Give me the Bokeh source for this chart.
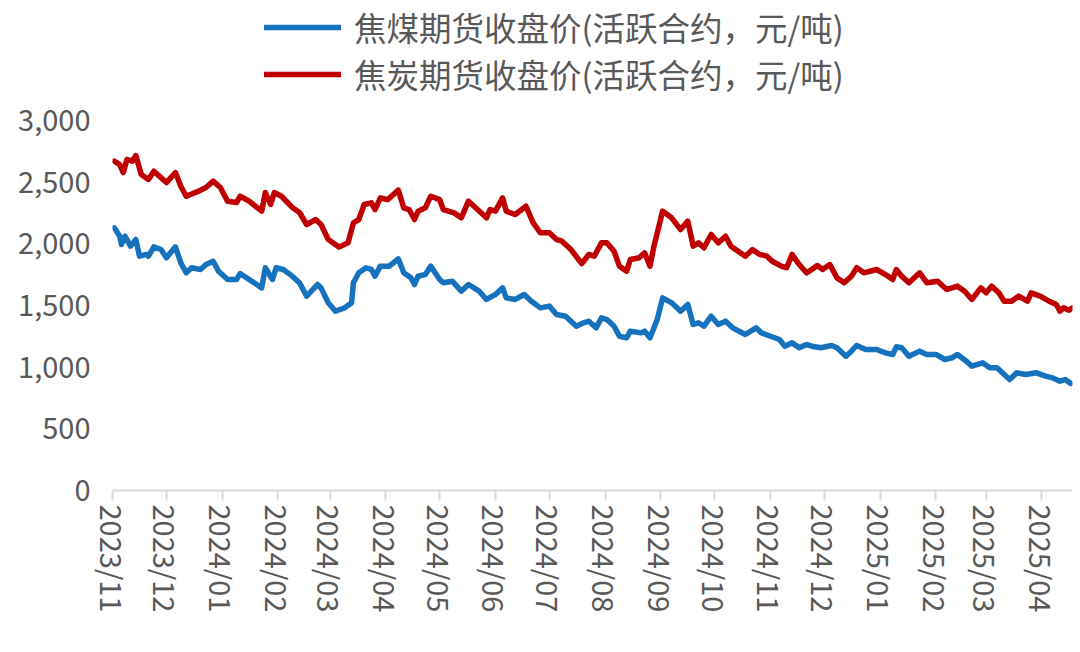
import pandas as pd
from bokeh.plotting import figure
from bokeh.models import (Range1d, FixedTicker, NumeralTickFormatter, DatetimeTickFormatter,
                          Legend, LegendItem, ColumnDataSource)
from bokeh.embed import file_html
from bokeh.resources import INLINE

# ---------------- data ----------------
series_names = ["焦煤期货收盘价(活跃合约，元/吨)", "焦炭期货收盘价(活跃合约，元/吨)"]

month_labels = ["2023/11", "2023/12", "2024/01", "2024/02", "2024/03", "2024/04", "2024/05",
                "2024/06", "2024/07", "2024/08", "2024/09", "2024/10", "2024/11", "2024/12",
                "2025/01", "2025/02", "2025/03", "2025/04"]

y_ticks = [0, 500, 1000, 1500, 2000, 2500, 3000]

coal_dates = [
    "2023-11-02", "2023-11-05", "2023-11-06", "2023-11-08", "2023-11-11", "2023-11-14", "2023-11-16",
    "2023-11-20", "2023-11-21", "2023-11-24", "2023-11-28", "2023-12-01", "2023-12-06", "2023-12-09",
    "2023-12-12", "2023-12-15", "2023-12-20", "2023-12-23", "2023-12-27", "2023-12-30", "2024-01-04",
    "2024-01-09", "2024-01-11", "2024-01-16", "2024-01-23", "2024-01-25", "2024-01-29", "2024-01-31",
    "2024-02-04", "2024-02-09", "2024-02-13", "2024-02-17", "2024-02-23", "2024-02-25", "2024-02-29",
    "2024-03-04", "2024-03-09", "2024-03-13", "2024-03-14", "2024-03-17", "2024-03-21", "2024-03-24",
    "2024-03-26", "2024-03-29", "2024-04-03", "2024-04-08", "2024-04-11", "2024-04-15", "2024-04-17",
    "2024-04-19", "2024-04-23", "2024-04-26", "2024-05-01", "2024-05-03", "2024-05-08", "2024-05-13",
    "2024-05-17", "2024-05-23", "2024-05-27", "2024-06-01", "2024-06-05", "2024-06-07", "2024-06-12",
    "2024-06-17", "2024-06-21", "2024-06-26", "2024-07-01", "2024-07-05", "2024-07-10", "2024-07-16",
    "2024-07-20", "2024-07-23", "2024-07-27", "2024-07-30", "2024-08-02", "2024-08-06", "2024-08-09",
    "2024-08-13", "2024-08-15", "2024-08-21", "2024-08-23", "2024-08-26", "2024-08-30", "2024-09-02",
    "2024-09-07", "2024-09-12", "2024-09-16", "2024-09-19", "2024-09-22", "2024-09-25", "2024-09-29",
    "2024-10-03", "2024-10-07", "2024-10-11", "2024-10-18", "2024-10-24", "2024-10-27", "2024-11-01",
    "2024-11-06", "2024-11-09", "2024-11-13", "2024-11-17", "2024-11-21", "2024-11-24", "2024-11-29",
    "2024-12-05", "2024-12-08", "2024-12-13", "2024-12-16", "2024-12-19", "2024-12-24", "2024-12-30",
    "2025-01-04", "2025-01-08", "2025-01-10", "2025-01-13", "2025-01-17", "2025-01-23", "2025-01-27",
    "2025-02-01", "2025-02-06", "2025-02-10", "2025-02-13", "2025-02-18", "2025-02-21", "2025-02-27",
    "2025-03-03", "2025-03-07", "2025-03-10", "2025-03-14", "2025-03-18", "2025-03-23", "2025-03-29",
    "2025-04-03", "2025-04-07", "2025-04-11", "2025-04-14", "2025-04-17"]
coal_prices = [
    2130, 2062, 1995, 2062, 1981, 2035, 1900,
    1914, 1900, 1976, 1954, 1887, 1976, 1846,
    1765, 1806, 1792, 1832, 1859, 1778, 1711,
    1711, 1759, 1711, 1643, 1806, 1711, 1806,
    1792, 1738, 1684, 1576, 1670, 1643, 1522,
    1454, 1480, 1522, 1684, 1765, 1806, 1792,
    1738, 1819, 1819, 1878, 1765, 1724, 1670,
    1738, 1751, 1819, 1711, 1684, 1697, 1616,
    1670, 1616, 1549, 1589, 1643, 1562, 1549,
    1589, 1535, 1481, 1495, 1427, 1413, 1332,
    1360, 1373, 1319, 1400, 1386, 1332, 1251,
    1238, 1292, 1278, 1292, 1238, 1386, 1562,
    1522, 1454, 1508, 1346, 1360, 1332, 1413,
    1346, 1373, 1319, 1265, 1319, 1278, 1251,
    1224, 1170, 1197, 1157, 1184, 1170, 1157,
    1176, 1157, 1089, 1130, 1176, 1143, 1143,
    1116, 1103, 1165, 1157, 1089, 1130, 1103,
    1103, 1062, 1076, 1103, 1048, 1008, 1035,
    995, 995, 954, 900, 954, 940, 954,
    927, 913, 886, 900, 868]

coke_dates = [
    "2023-11-02", "2023-11-05", "2023-11-07", "2023-11-09", "2023-11-12", "2023-11-14", "2023-11-17",
    "2023-11-21", "2023-11-24", "2023-11-27", "2023-12-01", "2023-12-06", "2023-12-09", "2023-12-12",
    "2023-12-19", "2023-12-23", "2023-12-27", "2023-12-31", "2024-01-04", "2024-01-09", "2024-01-11",
    "2024-01-16", "2024-01-23", "2024-01-25", "2024-01-28", "2024-01-30", "2024-02-03", "2024-02-09",
    "2024-02-13", "2024-02-17", "2024-02-22", "2024-02-25", "2024-02-29", "2024-03-06", "2024-03-11",
    "2024-03-14", "2024-03-17", "2024-03-20", "2024-03-24", "2024-03-26", "2024-03-29", "2024-04-02",
    "2024-04-08", "2024-04-11", "2024-04-14", "2024-04-17", "2024-04-19", "2024-04-23", "2024-04-26",
    "2024-05-01", "2024-05-03", "2024-05-09", "2024-05-13", "2024-05-17", "2024-05-21", "2024-05-27",
    "2024-05-29", "2024-06-01", "2024-06-05", "2024-06-07", "2024-06-12", "2024-06-18", "2024-06-22",
    "2024-06-26", "2024-07-01", "2024-07-05", "2024-07-08", "2024-07-13", "2024-07-19", "2024-07-23",
    "2024-07-26", "2024-07-30", "2024-08-02", "2024-08-06", "2024-08-09", "2024-08-13", "2024-08-15",
    "2024-08-20", "2024-08-23", "2024-08-26", "2024-08-28", "2024-09-02", "2024-09-07", "2024-09-12",
    "2024-09-16", "2024-09-19", "2024-09-22", "2024-09-25", "2024-09-29", "2024-10-03", "2024-10-07",
    "2024-10-10", "2024-10-14", "2024-10-18", "2024-10-22", "2024-10-26", "2024-10-30", "2024-11-02",
    "2024-11-07", "2024-11-10", "2024-11-13", "2024-11-17", "2024-11-21", "2024-11-24", "2024-11-27",
    "2024-11-30", "2024-12-04", "2024-12-08", "2024-12-12", "2024-12-16", "2024-12-19", "2024-12-23",
    "2024-12-30", "2025-01-04", "2025-01-08", "2025-01-10", "2025-01-13", "2025-01-17", "2025-01-23",
    "2025-01-27", "2025-02-02", "2025-02-07", "2025-02-10", "2025-02-13", "2025-02-17", "2025-02-21",
    "2025-02-26", "2025-03-01", "2025-03-04", "2025-03-08", "2025-03-11", "2025-03-15", "2025-03-19",
    "2025-03-24", "2025-03-26", "2025-03-31", "2025-04-05", "2025-04-09", "2025-04-11", "2025-04-13",
    "2025-04-16", "2025-04-18"]
coke_prices = [
    2670, 2643, 2578, 2684, 2670, 2716, 2562,
    2522, 2589, 2549, 2497, 2578, 2467, 2386,
    2427, 2457, 2508, 2457, 2346, 2335, 2386,
    2346, 2265, 2416, 2319, 2416, 2386, 2295,
    2254, 2157, 2197, 2157, 2035, 1975, 2008,
    2170, 2197, 2319, 2332, 2278, 2373, 2359,
    2435, 2292, 2278, 2197, 2265, 2292, 2386,
    2359, 2278, 2251, 2211, 2346, 2292, 2211,
    2278, 2265, 2373, 2265, 2238, 2305, 2170,
    2089, 2089, 2035, 2021, 1954, 1840, 1914,
    1900, 2008, 2008, 1940, 1819, 1778, 1873,
    1887, 1927, 1819, 1968, 2265, 2211, 2116,
    2184, 1981, 2008, 1968, 2076, 2008, 2062,
    1981, 1940, 1900, 1954, 1914, 1900, 1859,
    1819, 1806, 1914, 1832, 1765, 1792, 1824,
    1792, 1832, 1724, 1684, 1738, 1806, 1765,
    1792, 1751, 1711, 1792, 1738, 1684, 1765,
    1684, 1697, 1630, 1643, 1657, 1616, 1549,
    1643, 1603, 1657, 1603, 1535, 1535, 1576,
    1535, 1603, 1576, 1535, 1508, 1454, 1481,
    1462, 1481]

# ---------------- chart ----------------
FONT = "Noto Sans CJK SC"
TEXT_COLOR = "#595959"
BLUE = "#1672BD"
RED = "#C00000"

coal_src = ColumnDataSource(dict(x=pd.to_datetime(coal_dates), y=coal_prices))
coke_src = ColumnDataSource(dict(x=pd.to_datetime(coke_dates), y=coke_prices))

month_ts = pd.to_datetime(month_labels, format="%Y/%m")
month_ms = [t.timestamp() * 1000 for t in month_ts]

x_start = month_ts[0]
x_end = pd.Timestamp("2025-04-18")

# layout: the frame reaches the top of the figure so that the legend (drawn inside the
# frame) can sit above the 3,000 level; the axis scale keeps 3,000 at 120px from the top.
FIG_W, FIG_H = 1074, 645
BORDER_L, BORDER_R, BORDER_B = 112, 2, 155
FRAME_H = FIG_H - BORDER_B            # 490 px
AXIS_TOP_PX = 120                     # where 3,000 sits, from the figure top
y_max_tick = y_ticks[-1]
y_end = y_max_tick * FRAME_H / (FRAME_H - AXIS_TOP_PX)

p = figure(width=FIG_W, height=FIG_H, x_axis_type="datetime",
           x_range=Range1d(x_start, x_end), y_range=Range1d(0, y_end),
           output_backend="svg", toolbar_location=None,
           min_border_left=BORDER_L, min_border_right=BORDER_R,
           min_border_top=0, min_border_bottom=BORDER_B)

p.outline_line_color = None
p.xgrid.visible = False
p.ygrid.visible = False
p.background_fill_color = "white"
p.border_fill_color = "white"

r_coal = p.line("x", "y", source=coal_src, line_color=BLUE, line_width=5.5,
                line_join="round", line_cap="round")
r_coke = p.line("x", "y", source=coke_src, line_color=RED, line_width=5.5,
                line_join="round", line_cap="round")

# x axis
xa = p.xaxis[0]
xa.ticker = FixedTicker(ticks=month_ms)
fmt = "%Y/%m"
xa.formatter = DatetimeTickFormatter(milliseconds=fmt, seconds=fmt, minsec=fmt, minutes=fmt,
                                     hourmin=fmt, hours=fmt, days=fmt, months=fmt, years=fmt)
xa.major_label_orientation = "vertical"
xa.axis_line_color = "#D9D9D9"
xa.axis_line_width = 2
xa.major_tick_line_color = "#D9D9D9"
xa.major_tick_line_width = 2
xa.major_tick_out = 10
xa.major_tick_in = 0
xa.minor_tick_line_color = None
xa.major_label_standoff = 4
xa.major_label_text_font = FONT
xa.major_label_text_font_size = "29px"
xa.major_label_text_color = TEXT_COLOR

# y axis
ya = p.yaxis[0]
ya.ticker = FixedTicker(ticks=y_ticks)
ya.formatter = NumeralTickFormatter(format="0,0")
ya.axis_line_color = None
ya.major_tick_line_color = None
ya.minor_tick_line_color = None
ya.major_tick_out = 0
ya.major_tick_in = 0
ya.major_label_standoff = 22
ya.major_label_text_font = FONT
ya.major_label_text_font_size = "29px"
ya.major_label_text_color = TEXT_COLOR

LEG_ITEM_H = 44
LEG_TOP_PX = 9
legend = Legend(items=[LegendItem(label=series_names[0], renderers=[r_coal]),
                       LegendItem(label=series_names[1], renderers=[r_coke])],
                location=(152, FRAME_H - LEG_TOP_PX - 2 * LEG_ITEM_H), orientation="vertical",
                glyph_width=77, glyph_height=LEG_ITEM_H, label_height=LEG_ITEM_H, label_standoff=13,
                spacing=0, padding=0, margin=0,
                label_text_font=FONT, label_text_font_size="32.5px",
                label_text_color=TEXT_COLOR,
                border_line_color=None, background_fill_alpha=0)
p.add_layout(legend, "center")

open("out.html", "w").write(file_html(p, INLINE))
